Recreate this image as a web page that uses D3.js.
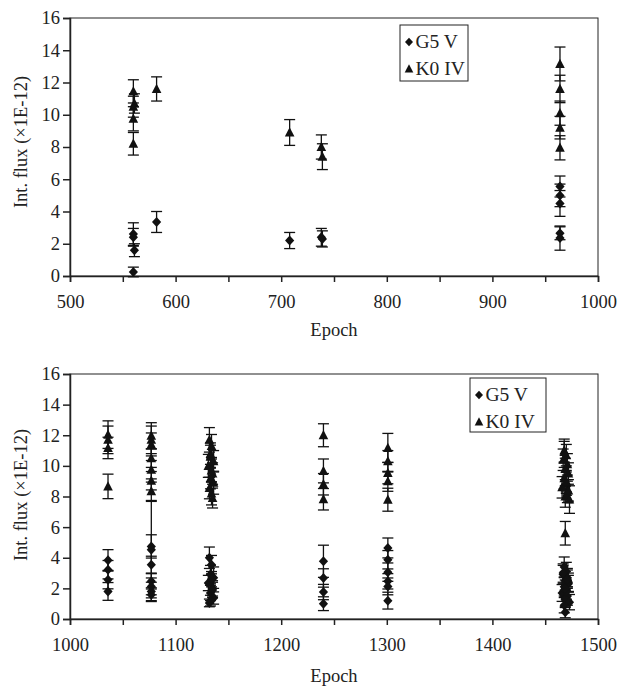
<!DOCTYPE html>
<html>
<head>
<meta charset="utf-8">
<script src="https://cdn.jsdelivr.net/npm/d3@7"></script>
<style>
  body { margin: 0; background: #fff; }
  text { font-family: "Liberation Serif", "Times New Roman", serif; fill: #222; }
</style>
</head>
<body>
<script>
// ---- data ----
// top panel, epochs 500-1000
var topG5Epoch = [560, 560, 561, 560, 582, 708, 738, 739, 964, 964, 964, 964, 964];
var topG5Flux  = [2.6, 2.4, 1.6, 0.25, 3.35, 2.2, 2.4, 2.3, 5.55, 5.0, 4.5, 2.65, 2.35];
var topG5Err   = [0.7, 0.55, 0.4, 0.3, 0.65, 0.5, 0.55, 0.5, 0.65, 0.7, 0.8, 0.4, 0.75];
var topK0Epoch = [560, 561, 560, 560, 560, 582, 708, 738, 739, 964, 964, 964, 964, 964];
var topK0Flux  = [11.45, 10.7, 10.5, 9.75, 8.2, 11.6, 8.9, 8.0, 7.4, 13.15, 11.6, 10.1, 9.2, 7.95];
var topK0Err   = [0.72, 0.6, 0.65, 0.75, 0.7, 0.75, 0.8, 0.75, 0.8, 1.05, 0.85, 0.75, 0.7, 0.75];

// bottom panel, epochs 1000-1500
var botG5Epoch = [1036, 1036, 1036, 1036,
  1077, 1077, 1077, 1077, 1077, 1077, 1077,
  1132, 1134, 1133, 1136, 1131, 1135, 1133, 1136, 1132, 1134, 1135, 1133,
  1240, 1240, 1240, 1240,
  1301, 1301, 1301, 1301, 1301, 1301,
  1468, 1470, 1467, 1471, 1469, 1472, 1468, 1470, 1466, 1471, 1469, 1473, 1468, 1469, 1467, 1472, 1470, 1471, 1469];
var botG5Flux  = [3.83, 3.22, 2.57, 1.8,
  4.74, 4.53, 3.55, 2.46, 2.13, 1.8, 1.59,
  4.0, 3.55, 2.9, 2.7, 2.35, 2.0, 1.7, 1.37, 1.05, 2.6, 1.9, 1.2,
  3.77, 2.68, 1.76, 1.0,
  4.64, 3.87, 3.06, 2.46, 2.13, 1.2,
  3.4, 3.1, 2.9, 2.7, 2.5, 2.3, 2.1, 1.9, 1.7, 1.5, 1.3, 1.1, 0.9, 0.44, 3.0, 2.4, 1.8, 2.6, 2.0];
var botG5Err   = [0.7, 0.6, 0.6, 0.58,
  0.76, 3.15, 0.55, 0.5, 0.55, 0.6, 0.45,
  0.7, 0.6, 0.6, 0.7, 0.5, 0.5, 0.5, 0.4, 0.25, 0.5, 0.5, 0.35,
  1.05, 0.6, 0.5, 0.45,
  0.65, 0.6, 0.6, 0.5, 0.55, 0.55,
  0.65, 0.6, 0.6, 0.6, 0.6, 0.55, 0.6, 0.6, 0.55, 0.6, 0.55, 0.5, 0.5, 0.36, 0.6, 0.6, 0.55, 0.6, 0.55];
var botK0Epoch = [1036, 1036, 1036, 1036,
  1077, 1077, 1077, 1077, 1077, 1077, 1077,
  1132, 1134, 1133, 1136, 1131, 1135, 1133, 1136, 1132, 1134, 1135, 1133, 1134,
  1240, 1240, 1240, 1240,
  1301, 1301, 1301, 1301, 1301,
  1468, 1470, 1467, 1471, 1469, 1472, 1468, 1470, 1466, 1471, 1469, 1473, 1469, 1468, 1470, 1472];
var botK0Flux  = [12.04, 11.7, 11.17, 8.66,
  11.97, 11.7, 11.4, 10.5, 9.75, 9.03, 8.34,
  11.7, 11.3, 10.6, 10.3, 10.0, 9.5, 9.2, 8.9, 8.55, 8.2, 7.9, 10.8, 9.7,
  12.0, 9.67, 8.8, 7.82,
  11.17, 10.3, 9.53, 8.99, 7.79,
  11.0, 10.7, 10.4, 10.1, 9.8, 9.5, 9.2, 8.9, 8.6, 8.3, 8.0, 7.8, 5.6, 10.9, 9.0, 8.4];
var botK0Err   = [0.9, 0.9, 0.7, 0.8,
  0.85, 0.9, 0.75, 0.6, 0.6, 0.6, 0.6,
  0.8, 0.75, 0.75, 0.7, 0.75, 0.7, 0.7, 0.75, 0.7, 0.75, 0.65, 0.7, 0.75,
  0.75, 0.78, 0.7, 0.7,
  0.95, 0.7, 0.7, 0.65, 0.75,
  0.75, 0.7, 0.7, 0.7, 0.7, 0.7, 0.7, 0.7, 0.7, 0.7, 0.7, 0.9, 0.77, 0.7, 0.7, 0.7];

var yTicks = [0, 2, 4, 6, 8, 10, 12, 14, 16];
var legendLabels = ["G5 V", "K0 IV"];
var yLabel = "Int. flux (\u00d71E-12)";
var xLabel = "Epoch";

var W = 617, H = 688;
var svg = d3.select("body").append("svg").attr("width", W).attr("height", H);

var diamond = "M0,-5L4.6,0L0,5L-4.6,0Z";
var triangle = "M0,-5.2L4.8,4L-4.8,4Z";

function zip(ep, fl, er) {
  return ep.map(function(e, i) { return {x: e, y: fl[i], e: er[i]}; });
}

function panel(opt) {
  var g = svg.append("g");
  var x = d3.scaleLinear().domain(opt.xDomain).range([70, 598]);
  var y = d3.scaleLinear().domain([0, 16]).range([opt.bottom, opt.top]);

  // frame
  g.append("rect")
    .attr("x", 70).attr("y", opt.top)
    .attr("width", 528).attr("height", opt.bottom - opt.top)
    .style("fill", "none").style("stroke", "#222").style("stroke-width", 1);

  var xAx = g.append("g").attr("transform", "translate(0," + opt.bottom + ")")
    .call(d3.axisBottom(x).tickValues(d3.range(opt.xDomain[0], opt.xDomain[1] + 1, 50))
      .tickFormat(function(d) { return d % 100 === 0 ? d : ""; })
      .tickSizeOuter(0).tickSize(6).tickPadding(13));
  var yAx = g.append("g").attr("transform", "translate(70,0)")
    .call(d3.axisLeft(y).tickValues(yTicks).tickSizeOuter(0).tickSize(7).tickPadding(3));
  [xAx, yAx].forEach(function(a) {
    a.selectAll("path,line").style("stroke", "#222").style("stroke-width", 1.5);
    a.selectAll("text").style("font-family", "Liberation Serif").style("font-size", "18.5px").style("fill", "#222");
  });

  g.append("text").attr("x", 334).attr("y", opt.bottom + opt.xTitleGap)
    .attr("text-anchor", "middle").style("font-size", "18.5px").text(xLabel);
  g.append("text")
    .attr("transform", "translate(27," + opt.yMid + ") rotate(-90)")
    .attr("text-anchor", "middle").style("font-size", "18.5px").text(yLabel);

  var series = [
    {pts: zip(opt.k0[0], opt.k0[1], opt.k0[2]), shape: triangle},
    {pts: zip(opt.g5[0], opt.g5[1], opt.g5[2]), shape: diamond}
  ];
  series.forEach(function(s) {
    var eb = g.append("g").selectAll("g").data(s.pts).enter().append("g");
    eb.append("line")
      .attr("x1", function(d) { return x(d.x); }).attr("x2", function(d) { return x(d.x); })
      .attr("y1", function(d) { return y(d.y - d.e); }).attr("y2", function(d) { return y(d.y + d.e); });
    [-1, 1].forEach(function(sgn) {
      eb.append("line")
        .attr("x1", function(d) { return x(d.x) - 5.5; }).attr("x2", function(d) { return x(d.x) + 5.5; })
        .attr("y1", function(d) { return y(d.y + sgn * d.e); }).attr("y2", function(d) { return y(d.y + sgn * d.e); });
    });
    eb.selectAll("line").style("stroke", "#111").style("stroke-width", 1.3);
  });
  series.forEach(function(s) {
    g.append("g").selectAll("path").data(s.pts).enter().append("path")
      .attr("d", s.shape)
      .attr("transform", function(d) { return "translate(" + x(d.x) + "," + y(d.y) + ")"; })
      .style("fill", "#111");
  });

  // legend
  var L = opt.legend;
  var lg = g.append("g").attr("transform", "translate(" + L[0] + "," + L[1] + ")");
  lg.append("rect").attr("width", L[2]).attr("height", L[3])
    .style("fill", "#fff").style("stroke", "#222").style("stroke-width", 1);
  legendLabels.forEach(function(lab, i) {
    var ly = 17 + i * 27;
    lg.append("path").attr("d", i === 0 ? "M0,-4.3L4,0L0,4.3L-4,0Z" : "M0,-4.8L4.3,3.6L-4.3,3.6Z")
      .attr("transform", "translate(9," + ly + ")").style("fill", "#111");
    lg.append("text").attr("x", 15.5).attr("y", ly + 6).style("font-size", "19.5px").text(lab);
  });
}

panel({
  xDomain: [500, 1000], top: 18, bottom: 276, xTitleGap: 60, yMid: 142,
  g5: [topG5Epoch, topG5Flux, topG5Err], k0: [topK0Epoch, topK0Flux, topK0Err],
  legend: [400, 25, 68, 56]
});
panel({
  xDomain: [1000, 1500], top: 374, bottom: 619, xTitleGap: 63, yMid: 495,
  g5: [botG5Epoch, botG5Flux, botG5Err], k0: [botK0Epoch, botK0Flux, botK0Err],
  legend: [470, 378, 76, 54]
});
</script>
</body>
</html>
